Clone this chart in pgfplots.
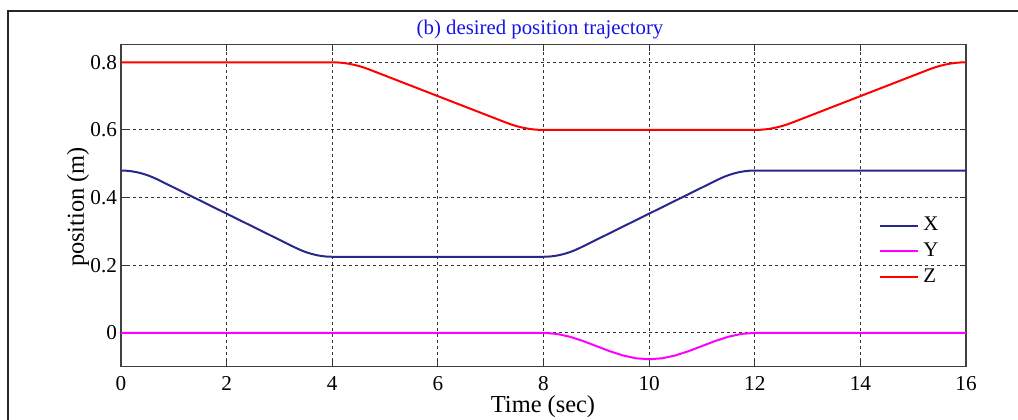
\documentclass[border=0pt]{standalone}
\usepackage{fontspec}
\setmainfont{Liberation Serif}
\usepackage{pgfplots}
\pgfplotsset{compat=1.18}
\definecolor{xblue}{RGB}{40,40,140}
\definecolor{ymag}{RGB}{255,0,255}
\definecolor{zred}{RGB}{255,0,0}
\definecolor{ttlblue}{RGB}{20,20,230}
\begin{document}
\begin{tikzpicture}
\path[use as bounding box] (0,0) rectangle (509pt,-209.5pt);
\draw[line width=1pt, black!85] (4pt,-215pt) -- (4pt,-5.5pt) -- (515pt,-5.5pt);
\begin{axis}[
  at={(60.5pt,-183.35pt)}, anchor=south west,
  scale only axis, width=422.5pt, height=161pt,
  xmin=0, xmax=16, ymin=-0.1, ymax=0.852,
  xtick={0,2,...,16},
  ytick={0,0.2,0.4,0.6,0.8},
  yticklabels={0,0.2,0.4,0.6,0.8},
  /pgf/number format/assume math mode=true,
  tick label style={font=\fontsize{10.6}{12}\selectfont},
  yticklabel style={xshift=1.5pt},
  xticklabel style={yshift=-1.5pt},
  tick align=inside, major tick length=3pt,
  axis line style={black!75, line width=0.6pt},
  every tick/.style={black!80, line width=0.5pt},
  grid=major,
  major grid style={dash pattern=on 1.5pt off 1.5pt, black!80, line width=0.45pt},
  legend style={draw=none, fill=none, at={(0.889,0.49)}, anchor=north west, font=\fontsize{10.4}{12}\selectfont, row sep=0.5pt},
  legend cell align=left,
  legend image code/.code={\draw[#1] (0cm,0cm) -- (0.68cm,0cm);},
]
\addplot[xblue, line width=1pt] coordinates {
(0,0.48) (0.1,0.47945) (0.2,0.47779) (0.3,0.47503) (0.4,0.47117) (0.5,0.4662) (0.6,0.46013) (0.7,0.45295)
(1,0.42977) (1.5,0.39114) (2,0.3525) (2.5,0.31386) (3,0.27523) (3.3,0.25205)
(3.4,0.24487) (3.5,0.2388) (3.6,0.23383) (3.7,0.22997) (3.8,0.22721) (3.9,0.22555) (4,0.225)
(8,0.225) (8.1,0.22555) (8.2,0.22721) (8.3,0.22997) (8.4,0.23383) (8.5,0.2388) (8.6,0.24487) (8.7,0.25205)
(9,0.27523) (9.5,0.31386) (10,0.3525) (10.5,0.39114) (11,0.42977) (11.3,0.45295)
(11.4,0.46013) (11.5,0.4662) (11.6,0.47117) (11.7,0.47503) (11.8,0.47779) (11.9,0.47945) (12,0.48)
(16,0.48)
};
\addlegendentry{X}
\addplot[ymag, line width=1pt] coordinates {
(0,0) (8,0) (8.25,-0.00297) (8.5,-0.01142) (8.75,-0.02408) (9,-0.039) (9.25,-0.05392) (9.5,-0.06658) (9.75,-0.07503) (10,-0.078)
(10.25,-0.07503) (10.5,-0.06658) (10.75,-0.05392) (11,-0.039) (11.25,-0.02408) (11.5,-0.01142) (11.75,-0.00297) (12,0) (16,0)
};
\addlegendentry{Y}
\addplot[zred, line width=1pt] coordinates {
(0,0.8) (4,0.8) (4.1,0.79957) (4.2,0.79827) (4.3,0.7961) (4.4,0.79307) (4.5,0.78918) (4.6,0.78442) (4.7,0.77879)
(5,0.76061) (5.5,0.7303) (6,0.7) (6.5,0.6697) (7,0.63939) (7.3,0.62121)
(7.4,0.61558) (7.5,0.61082) (7.6,0.60693) (7.7,0.6039) (7.8,0.60173) (7.9,0.60043) (8,0.6)
(12,0.6) (12.1,0.60043) (12.2,0.60173) (12.3,0.6039) (12.4,0.60693) (12.5,0.61082) (12.6,0.61558) (12.7,0.62121)
(13,0.63939) (13.5,0.6697) (14,0.7) (14.5,0.7303) (15,0.76061) (15.3,0.77879)
(15.4,0.78442) (15.5,0.78918) (15.6,0.79307) (15.7,0.7961) (15.8,0.79827) (15.9,0.79957) (16,0.8)
};
\addlegendentry{Z}
\end{axis}
\node[anchor=base, text=ttlblue, font=\fontsize{10.4}{12}\selectfont] at (270pt,-17.3pt) {(b) desired position trajectory};
\node[anchor=base, font=\fontsize{12.2}{14}\selectfont] at (271.5pt,-206pt) {Time (sec)};
\node[anchor=center, rotate=90, font=\fontsize{12.2}{14}\selectfont] at (39pt,-103.5pt) {position (m)};
\end{tikzpicture}
\end{document}
